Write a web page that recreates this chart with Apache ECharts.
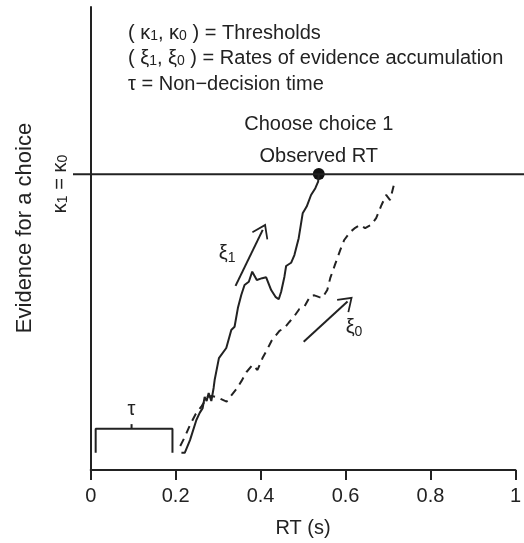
<!DOCTYPE html>
<html>
<head>
<meta charset="utf-8">
<script src="https://cdn.jsdelivr.net/npm/echarts@6/dist/echarts.min.js"></script>
<style>
html,body{margin:0;padding:0;background:#fff;}
#chart{width:524px;height:543px;}
</style>
</head>
<body>
<div id="chart"></div>
<script>
// ---- data ----
const xTicks = [0, 0.2, 0.4, 0.6, 0.8, 1];
const threshold = 1.0;
const observedRT = 0.537;
// choice 1 accumulator (solid)
const choice1RT = [0.2136,0.2214,0.2338,0.2488,0.2566,0.2636,0.2683,0.2730,0.2777,0.2840,0.2894,0.2918,0.3019,0.3192,0.3310,0.3387,0.3465,0.3545,0.3622,0.3723,0.3803,0.3911,0.4038,0.4131,0.4249,0.4350,0.4427,0.4484,0.4561,0.4601,0.4718,0.4796,0.4897,0.4991,0.5085,0.5188,0.5289,0.5355,0.537];
const choice1Evidence = [0.058,0.058,0.101,0.169,0.193,0.209,0.247,0.233,0.260,0.233,0.277,0.304,0.378,0.412,0.473,0.484,0.547,0.591,0.625,0.636,0.670,0.642,0.648,0.651,0.608,0.585,0.577,0.602,0.653,0.689,0.700,0.726,0.783,0.867,0.890,0.929,0.952,0.974,1.0];
// choice 0 accumulator (dashed)
const choice0RT = [0.2108,0.2214,0.2338,0.2472,0.2613,0.2754,0.2847,0.2941,0.3059,0.3200,0.3317,0.3434,0.3552,0.3669,0.3810,0.3927,0.4045,0.4162,0.4256,0.4444,0.4561,0.4678,0.4796,0.4913,0.5031,0.5171,0.5265,0.5383,0.5453,0.5570,0.5641,0.5758,0.5875,0.5969,0.6110,0.6228,0.6345,0.6462,0.6603,0.6721,0.6838,0.6955,0.7049,0.7143,0.7237];
const choice0Evidence = [0.081,0.111,0.152,0.189,0.216,0.247,0.250,0.247,0.240,0.231,0.253,0.274,0.301,0.331,0.355,0.338,0.378,0.409,0.436,0.470,0.480,0.500,0.520,0.544,0.552,0.588,0.590,0.584,0.581,0.608,0.649,0.696,0.743,0.777,0.804,0.818,0.828,0.817,0.828,0.851,0.892,0.929,0.912,0.966,0.969];
// non-decision time bracket
const tauX = [0.0117, 0.0962, 0.1925];   // left, centre tick, right
const tauY = [0.058, 0.139, 0.155, 0.206]; // bottom, bar, tick top, label
// rate arrows [x0,y0,x1,y1]
const xi1Arrow = [0.341, 0.622, 0.405, 0.811];
const xi0Arrow = [0.5014, 0.433, 0.6047, 0.569];
const xi1Label = [0.321, 0.733];
const xi0Label = [0.620, 0.483];

// ---- layout ----
const INK = '#222';
const FONT = '"Liberation Sans", Arial, Helvetica, sans-serif';
const FS = 20;
const yMax = 1.564;
const wideMin = -0.04155, wideMax = 1.01714;
const sub = { fontSize: 14, fontFamily: FONT, color: INK, verticalAlign: 'bottom', lineHeight: 14 };
const main = { fontSize: FS, fontFamily: FONT, color: INK, lineHeight: 24 };
const chevron = 'path://M0,0 L9,13 L7.6,14 L0,3.2 L-7.6,14 L-9,13 Z';

const zip = (a, b) => a.map((v, i) => [v, b[i]]);

const chart = echarts.init(document.getElementById('chart'), null, { renderer: 'canvas' });
const option = {
  animation: false,
  backgroundColor: '#fff',
  textStyle: { fontFamily: FONT, color: INK },
  grid: [
    { left: 90.7, right: 7.3, top: 7, bottom: 72.3 },
    { left: 73, right: 0, top: 7, bottom: 72.3 }
  ],
  xAxis: [
    {
      gridIndex: 0, type: 'value', min: 0, max: 1, interval: 0.2,
      axisLine: { show: true, lineStyle: { color: INK, width: 2 } },
      axisTick: { show: true, length: 10, lineStyle: { color: INK, width: 2 } },
      axisLabel: { fontSize: FS, fontFamily: FONT, color: INK, margin: 16,
        formatter: v => { const t = xTicks.find(k => Math.abs(k - v) < 1e-9); return t === undefined ? '' : String(t); } },
      splitLine: { show: false },
      name: 'RT (s)', nameLocation: 'middle', nameGap: 48,
      nameTextStyle: { fontSize: FS, fontFamily: FONT, color: INK }
    },
    { gridIndex: 1, type: 'value', min: wideMin, max: wideMax, show: false }
  ],
  yAxis: [
    {
      gridIndex: 0, type: 'value', min: 0, max: yMax,
      axisLine: { show: true, lineStyle: { color: INK, width: 2 } },
      axisTick: { show: false }, axisLabel: { show: false }, splitLine: { show: false },
      name: 'Evidence for a choice', nameLocation: 'middle', nameGap: 55,
      nameTextStyle: { fontSize: 22, fontFamily: FONT, color: INK, padding: [0, 0, 0, 21] }
    },
    { gridIndex: 1, type: 'value', min: 0, max: yMax, show: false }
  ],
  series: [
    { // threshold
      type: 'line', xAxisIndex: 1, yAxisIndex: 1, silent: true,
      data: [[wideMin, threshold], [wideMax, threshold]],
      showSymbol: false, lineStyle: { color: INK, width: 2 }
    },
    { // choice 0 (dashed)
      type: 'line', data: zip(choice0RT, choice0Evidence), showSymbol: false, silent: true,
      lineStyle: { color: INK, width: 2, type: [8, 6] }
    },
    { // choice 1 (solid)
      type: 'line', data: zip(choice1RT, choice1Evidence), showSymbol: false, silent: true,
      lineStyle: { color: INK, width: 2 }
    },
    { // tau bracket
      type: 'line', showSymbol: false, silent: true,
      data: [[tauX[0], tauY[0]], [tauX[0], tauY[1]], [tauX[2], tauY[1]], [tauX[2], tauY[0]]],
      lineStyle: { color: INK, width: 2 }
    },
    { // tau centre tick
      type: 'line', showSymbol: false, silent: true,
      data: [[tauX[1], tauY[1]], [tauX[1], tauY[2]]],
      lineStyle: { color: INK, width: 2 }
    },
    { // observed RT dot
      type: 'scatter', symbol: 'circle', symbolSize: 12, silent: true,
      itemStyle: { color: '#111', opacity: 1 },
      data: [[observedRT, threshold]],
      label: { show: true, position: 'top', distance: 0, offset: [0, 5],
        formatter: 'Choose choice 1\nObserved RT',
        fontSize: FS, fontFamily: FONT, color: INK, lineHeight: 32 }
    },
    { // annotations: tau, xi labels + arrows
      type: 'scatter', symbolSize: 0, silent: true,
      itemStyle: { opacity: 1, color: INK },
      data: [
        { value: [tauX[1], tauY[3]], label: { formatter: '{m|τ}' } },
        { value: xi1Label, label: { formatter: '{m|ξ}{s|1}' } },
        { value: xi0Label, label: { formatter: '{m|ξ}{s|0}' } }
      ],
      label: { show: true, position: 'inside', color: INK, rich: { m: main, s: sub } },
      markLine: {
        silent: true, animation: false,
        symbol: ['none', chevron], symbolSize: [18, 14],
        label: { show: false },
        lineStyle: { color: INK, width: 2, type: 'solid', opacity: 1 },
        data: [
          [{ coord: [xi1Arrow[0], xi1Arrow[1]] }, { coord: [xi1Arrow[2], xi1Arrow[3]] }],
          [{ coord: [xi0Arrow[0], xi0Arrow[1]] }, { coord: [xi0Arrow[2], xi0Arrow[3]] }]
        ]
      }
    }
  ],
  graphic: [
    { type: 'text', left: 128, top: 23, silent: true,
      style: { text: '( κ{s|1}, κ{s|0} ) = Thresholds', font: FS + 'px ' + FONT, fill: INK,
        rich: { s: sub } } },
    { type: 'text', left: 128, top: 48, silent: true,
      style: { text: '( ξ{s|1}, ξ{s|0} ) = Rates of evidence accumulation', font: FS + 'px ' + FONT, fill: INK,
        rich: { s: sub } } },
    { type: 'text', left: 128, top: 74, silent: true,
      style: { text: 'τ = Non−decision time', font: FS + 'px ' + FONT, fill: INK } },
    { type: 'text', x: 60, y: 184, rotation: Math.PI / 2, silent: true,
      style: { text: 'κ{s|1} = κ{s|0}', font: FS + 'px ' + FONT, fill: INK,
        align: 'center', verticalAlign: 'middle', rich: { s: sub } } }
  ]
};
chart.setOption(option);
</script>
</body>
</html>
